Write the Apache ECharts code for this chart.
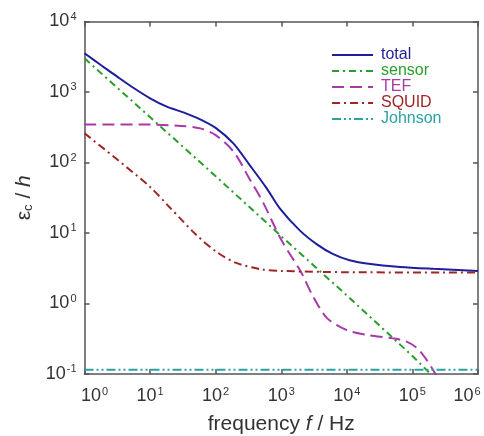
<!DOCTYPE html>
<html><head><meta charset="utf-8">
<script src="https://cdn.jsdelivr.net/npm/echarts@6/dist/echarts.min.js"></script>
<style>html,body{margin:0;padding:0;background:#fff}#c{width:484px;height:436px}</style>
</head><body><div id="c"></div>
<script>
// Data (frequency in Hz, values in units of h)
const totalF  = [1, 1.77, 3.16, 5.7, 10, 18, 33, 58, 100, 186, 330, 600, 950, 1930, 3500, 6200, 11000, 20000, 65000, 210000, 1000000];
const totalV  = [3540, 2420, 1650, 1130, 815, 620, 510, 410, 310, 187, 92, 43, 22.4, 10.8, 6.9, 5.0, 4.1, 3.7, 3.3, 3.1, 2.9];
const sensorF = [1, 10, 100, 1000, 10000, 100000, 200000, 300000];
const sensorV = [3000, 440, 64, 9.0, 1.3, 0.18, 0.095, 0.06];
const tefF    = [1, 10, 30, 58, 100, 190, 330, 530, 1000, 2000, 3000, 5000, 10000, 20000, 50000, 80000, 120000, 160000, 200000, 250000];
const tefV    = [345, 345, 330, 305, 245, 140, 58, 27, 8, 2.8, 1.3, 0.62, 0.42, 0.36, 0.32, 0.29, 0.23, 0.165, 0.12, 0.085];
const squidF  = [1, 3.16, 10, 20, 30, 50, 100, 200, 500, 1000, 10000, 1000000];
const squidV  = [260, 110, 45, 23, 15.5, 9.5, 5.5, 3.8, 3.05, 2.9, 2.78, 2.75];
const johnsonF = [1, 1000000];
const johnsonV = [0.115, 0.115];
const seriesNames = ['total', 'sensor', 'TEF', 'SQUID', 'Johnson'];
const xTicks = [1, 1e6];
const yTicks = [0.1, 1e4];

const colors = ['#1e1e9c', '#2a9e2a', '#a83aa8', '#a02626', '#2aa3a3'];
const pair = (f, v) => f.map((x, i) => [x, v[i]]);
const expOf = v => Math.round(Math.log10(v));
const supY = v => '{b|10}{s|' + expOf(v) + '}';
const supX = v => {
  const e = expOf(v);
  if (e === 0) return '{bl|10}{s|' + e + '}';
  if (e === 6) return '{b|10}{sr|' + e + '}';
  return '{b|10}{s|' + e + '}';
};
const font = 'Liberation Sans';
const rich = {
  b:  { fontSize: 18, color: '#333', fontFamily: font },
  bl: { fontSize: 18, color: '#333', fontFamily: font, padding: [0, 0, 0, 20] },
  s:  { fontSize: 11, color: '#333', fontFamily: font, verticalAlign: 'top', padding: [0, 0, 10, 1] },
  sr: { fontSize: 11, color: '#333', fontFamily: font, verticalAlign: 'top', padding: [0, 22, 10, 1] }
};
const axisLine = { lineStyle: { color: '#555', width: 1.5 } };
const tick = { inside: true, length: 5, lineStyle: { color: '#555', width: 1.5 } };

const chart = echarts.init(document.getElementById('c'), null, { renderer: 'canvas' });
chart.setOption({
  animation: false,
  grid: { left: 84.5, right: 6, top: 21.5, bottom: 62, containLabel: false, outerBoundsMode: 'none' },
  legend: {
    orient: 'vertical', left: 326, top: 42, itemWidth: 41, itemHeight: 10, itemGap: 0,
    itemStyle: { opacity: 0 },
    textStyle: { fontSize: 16, lineHeight: 15.5, fontFamily: font, padding: [0, 0, 0, 3] },
    data: seriesNames.map((n, i) => ({ name: n, textStyle: { color: colors[i] } }))
  },
  xAxis: [
    { type: 'log', logBase: 10, min: xTicks[0], max: xTicks[1], position: 'bottom',
      axisLine: axisLine, axisTick: tick, splitLine: { show: false }, minorTick: { show: false },
      axisLabel: { formatter: supX, rich: rich, margin: 12 },
      name: '{t|frequency }{i|f}{t| / Hz}', nameLocation: 'middle', nameGap: 40,
      nameTextStyle: { rich: { t: { fontSize: 21, color: '#333', fontFamily: font },
                               i: { fontSize: 21, color: '#333', fontFamily: font, fontStyle: 'italic' } } } },
    { type: 'log', logBase: 10, min: xTicks[0], max: xTicks[1], position: 'top',
      axisLine: axisLine, axisTick: tick, splitLine: { show: false }, axisLabel: { show: false } }
  ],
  yAxis: [
    { type: 'log', logBase: 10, min: yTicks[0], max: yTicks[1], position: 'left',
      axisLine: axisLine, axisTick: tick, splitLine: { show: false }, minorTick: { show: false },
      axisLabel: { formatter: supY, rich: rich, margin: 8 },
      name: '{e|ε}{c|c}{e| / }{h|h}', nameLocation: 'middle', nameGap: 35, nameRotate: 90,
      nameTextStyle: { rich: { e: { fontSize: 21, color: '#333', fontFamily: font },
                               c: { fontSize: 13, color: '#333', fontFamily: font, verticalAlign: 'bottom', padding: [6, 0, 0, 0] },
                               h: { fontSize: 21, color: '#333', fontFamily: font, fontStyle: 'italic' } } } },
    { type: 'log', logBase: 10, min: yTicks[0], max: yTicks[1], position: 'right',
      axisLine: axisLine, axisTick: tick, splitLine: { show: false }, axisLabel: { show: false } }
  ],
  series: [
    { name: 'total', type: 'line', data: pair(totalF, totalV), smooth: 0.3, showSymbol: false, symbol: 'none',
      lineStyle: { color: colors[0], width: 2 }, itemStyle: { color: colors[0] } },
    { name: 'sensor', type: 'line', data: pair(sensorF, sensorV), showSymbol: false, symbol: 'none',
      lineStyle: { color: colors[1], width: 2, type: [7, 4, 2, 4] }, itemStyle: { color: colors[1] } },
    { name: 'TEF', type: 'line', data: pair(tefF, tefV), smooth: 0.3, showSymbol: false, symbol: 'none',
      lineStyle: { color: colors[2], width: 2, type: [12, 6] }, itemStyle: { color: colors[2] } },
    { name: 'SQUID', type: 'line', data: pair(squidF, squidV), smooth: 0.3, showSymbol: false, symbol: 'none',
      lineStyle: { color: colors[3], width: 2, type: [8, 4, 2, 4] }, itemStyle: { color: colors[3] } },
    { name: 'Johnson', type: 'line', data: pair(johnsonF, johnsonV), showSymbol: false, symbol: 'none',
      lineStyle: { color: colors[4], width: 2, type: [9, 3, 2, 3, 2, 3] }, itemStyle: { color: colors[4] } }
  ]
});
</script></body></html>
